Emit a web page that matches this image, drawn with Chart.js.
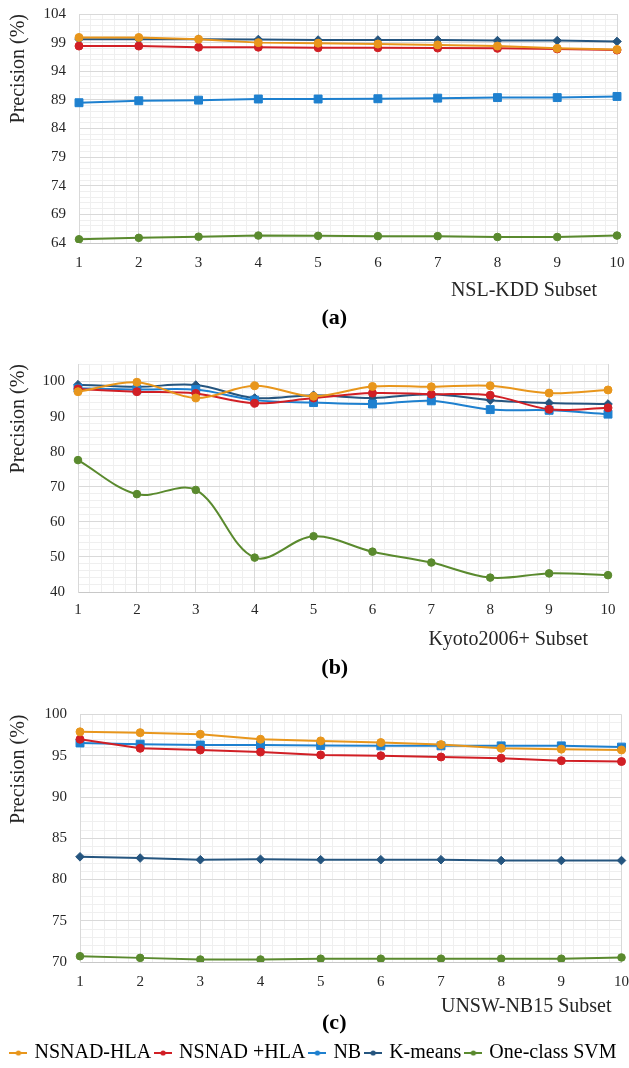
<!DOCTYPE html>
<html>
<head>
<meta charset="utf-8">
<script src="https://cdn.jsdelivr.net/npm/chart.js@4.4.1/dist/chart.umd.min.js"></script>
<style>
html,body{margin:0;padding:0;background:#fff;overflow:hidden;}
#wrap{position:relative;width:629px;height:1068px;overflow:hidden;}
canvas{position:absolute;left:0;}
</style>
</head>
<body>
<div id="wrap">
  <canvas id="chartA" width="629" height="340" style="top:0px"></canvas>
  <canvas id="chartB" width="629" height="350" style="top:340px"></canvas>
  <canvas id="chartC" width="629" height="383" style="top:690px"></canvas>
</div>
<script>
// x categories and series names (legend order)
const subsets = ['1', '2', '3', '4', '5', '6', '7', '8', '9', '10'];
const methods = ['NSNAD-HLA', 'NSNAD +HLA', 'NB', 'K-means', 'One-class SVM'];

// (a) NSL-KDD subset
const nslNsnadHla     = [99.9, 99.9, 99.6, 99.0, 98.9, 98.75, 98.6, 98.4, 98.0, 97.8];
const nslNsnadPlusHla = [98.4, 98.4, 98.2, 98.2, 98.1, 98.1, 98.05, 98.0, 97.9, 97.7];
const nslNb           = [88.5, 88.85, 88.95, 89.15, 89.15, 89.2, 89.3, 89.4, 89.4, 89.6];
const nslKmeans       = [99.6, 99.6, 99.6, 99.55, 99.45, 99.45, 99.45, 99.35, 99.35, 99.2];
const nslSvm          = [64.65, 64.9, 65.1, 65.3, 65.25, 65.2, 65.2, 65.05, 65.05, 65.3];
const nslTicks        = [64, 69, 74, 79, 84, 89, 94, 99, 104];

// (b) Kyoto2006+ subset
const kyoNsnadHla     = [97.1, 99.8, 95.3, 98.8, 95.8, 98.6, 98.5, 98.8, 96.7, 97.6];
const kyoNsnadPlusHla = [97.9, 97.1, 96.6, 93.8, 95.3, 96.7, 96.4, 96.1, 92.1, 92.5];
const kyoNb           = [98.1, 97.7, 97.7, 94.7, 94.0, 93.6, 94.5, 92.0, 91.8, 90.7];
const kyoKmeans       = [99.1, 98.5, 99.0, 95.3, 96.1, 95.3, 96.4, 94.7, 93.9, 93.6];
const kyoSvm          = [77.6, 67.9, 69.1, 49.8, 55.9, 51.5, 48.4, 44.1, 45.3, 44.8];
const kyoTicks        = [40, 50, 60, 70, 80, 90, 100];

// (c) UNSW-NB15 subset
const unswNsnadHla     = [97.9, 97.8, 97.6, 97.0, 96.8, 96.6, 96.35, 95.9, 95.8, 95.7];
const unswNsnadPlusHla = [97.0, 95.9, 95.7, 95.45, 95.1, 95.0, 94.85, 94.7, 94.4, 94.3];
const unswNb           = [96.55, 96.4, 96.3, 96.3, 96.25, 96.2, 96.2, 96.2, 96.2, 96.05];
const unswKmeans       = [82.75, 82.6, 82.4, 82.45, 82.4, 82.4, 82.4, 82.3, 82.3, 82.3];
const unswSvm          = [70.7, 70.5, 70.3, 70.3, 70.4, 70.4, 70.4, 70.4, 70.4, 70.55];
const unswTicks        = [70, 75, 80, 85, 90, 95, 100];

// styles
const colors = ['#e8961c', '#d11f25', '#1e80cf', '#25557f', '#5a8a2e'];
const markers = ['circle', 'circle', 'rect', 'rectRot', 'circle'];
const radii = [4, 4, 5.6, 4.3, 3.8];
const txt = '#262626';
const majorGrid = '#d9d9d9';
const minorGrid = '#efefef';
const clear = 'rgba(0,0,0,0)';

Chart.defaults.font.family = "'Liberation Serif', 'Times New Roman', serif";
Chart.defaults.color = txt;

function legendMarker(color) {
  const c = document.createElement('canvas');
  c.width = 18; c.height = 8;
  const g = c.getContext('2d');
  g.strokeStyle = color; g.lineWidth = 2;
  g.beginPath(); g.moveTo(0, 4); g.lineTo(18, 4); g.stroke();
  g.fillStyle = color;
  g.beginPath(); g.arc(9, 4, 2.6, 0, Math.PI * 2); g.fill();
  return c;
}

function makeSets(values, smooth) {
  return values.map((v, i) => ({
    label: methods[i],
    data: v,
    xAxisID: 'x',
    yAxisID: 'y',
    borderColor: colors[i],
    backgroundColor: colors[i],
    borderWidth: 2,
    pointStyle: markers[i],
    pointRadius: radii[i],
    pointBackgroundColor: colors[i],
    pointBorderColor: colors[i],
    pointBorderWidth: 1,
    tension: smooth ? 0.35 : 0,
    fill: false
  }));
}

function drawPanel(id, values, p) {
  const legend = p.legend ? {
    display: true,
    position: 'bottom',
    weight: 1000,
    labels: {
      usePointStyle: true,
      pointStyleWidth: 12,
      boxWidth: 12,
      boxHeight: 12,
      padding: 6,
      color: '#000',
      font: { size: 20 },
      generateLabels: chart => Chart.defaults.plugins.legend.labels.generateLabels(chart).map((it, i) => {
        it.pointStyle = legendMarker(colors[i]);
        return it;
      })
    }
  } : { display: false };

  new Chart(document.getElementById(id).getContext('2d'), {
    type: 'line',
    data: { labels: subsets, datasets: makeSets(values, p.smooth) },
    options: {
      responsive: false,
      animation: false,
      layout: { padding: p.pad },
      plugins: {
        legend: legend,
        tooltip: { enabled: false },
        title: {
          display: true,
          text: p.caption,
          position: 'bottom',
          fullSize: false,
          weight: 500,
          color: '#000',
          font: { size: 22, weight: 'bold', lineHeight: 1 },
          padding: p.capPad
        }
      },
      scales: {
        x: {
          type: 'category',
          position: 'bottom',
          offset: false,
          ticks: { padding: 0, font: { size: 15 }, maxRotation: 0, autoSkip: false, color: txt },
          grid: { color: majorGrid, drawTicks: true, tickLength: p.tickGap, tickColor: clear, offset: false },
          border: { color: '#c8c8c8' },
          title: { display: true, text: p.xTitle, align: 'end', color: txt, font: { size: 20 }, padding: { top: p.titlePad, bottom: 0 } }
        },
        xm: {
          type: 'linear',
          position: 'bottom',
          min: 1,
          max: 10,
          ticks: { display: false, stepSize: 0.2 },
          grid: { color: minorGrid, drawTicks: false, z: -2 },
          border: { display: false },
          afterFit: s => { s.height = 0; }
        },
        y: {
          type: 'linear',
          position: 'left',
          min: p.min,
          max: p.max,
          afterBuildTicks: s => { s.ticks = p.ticks.map(v => ({ value: v })); },
          afterFit: s => { s.width = p.yWidth; },
          ticks: { padding: 4, font: { size: 15 }, color: txt },
          grid: { color: majorGrid, drawTicks: true, tickLength: 9, tickColor: clear },
          border: { color: majorGrid },
          title: { display: true, text: 'Precision (%)', align: 'end', color: txt, font: { size: 20 }, padding: { top: 7, bottom: 0 } }
        },
        ym: {
          type: 'linear',
          position: 'left',
          min: p.min,
          max: p.max,
          ticks: { display: false, stepSize: p.minorStep },
          grid: { color: minorGrid, drawTicks: false, z: -2 },
          border: { display: false },
          afterFit: s => { s.width = 0; }
        }
      }
    }
  });
}

drawPanel('chartA', [nslNsnadHla, nslNsnadPlusHla, nslNb, nslKmeans, nslSvm], {
  min: 64, max: 104, ticks: nslTicks, minorStep: 1, smooth: false,
  xTitle: 'NSL-KDD Subset    ', caption: '(a)     ',
  pad: { top: 14, right: 12, bottom: 0, left: 0 }, yWidth: 79,
  tickGap: 11, titlePad: 7, capPad: { top: 4, bottom: 11 }, legend: false
});

drawPanel('chartB', [kyoNsnadHla, kyoNsnadPlusHla, kyoNb, kyoKmeans, kyoSvm], {
  min: 40, max: 105, ticks: kyoTicks, minorStep: 2, smooth: true,
  xTitle: 'Kyoto2006+ Subset    ', caption: '(b)   ',
  pad: { top: 24, right: 21, bottom: 0, left: 0 }, yWidth: 78,
  tickGap: 9, titlePad: 9, capPad: { top: 5, bottom: 11 }, legend: false
});

drawPanel('chartC', [unswNsnadHla, unswNsnadPlusHla, unswNb, unswKmeans, unswSvm], {
  min: 70, max: 100, ticks: unswTicks, minorStep: 1, smooth: false,
  xTitle: 'UNSW-NB15 Subset  ', caption: '(c)      ',
  pad: { top: 24.5, right: 0, bottom: 0, left: 0 }, yWidth: 80,
  tickGap: 11, titlePad: 4, capPad: { top: -7, bottom: 3 }, legend: true
});
</script>
</body>
</html>
